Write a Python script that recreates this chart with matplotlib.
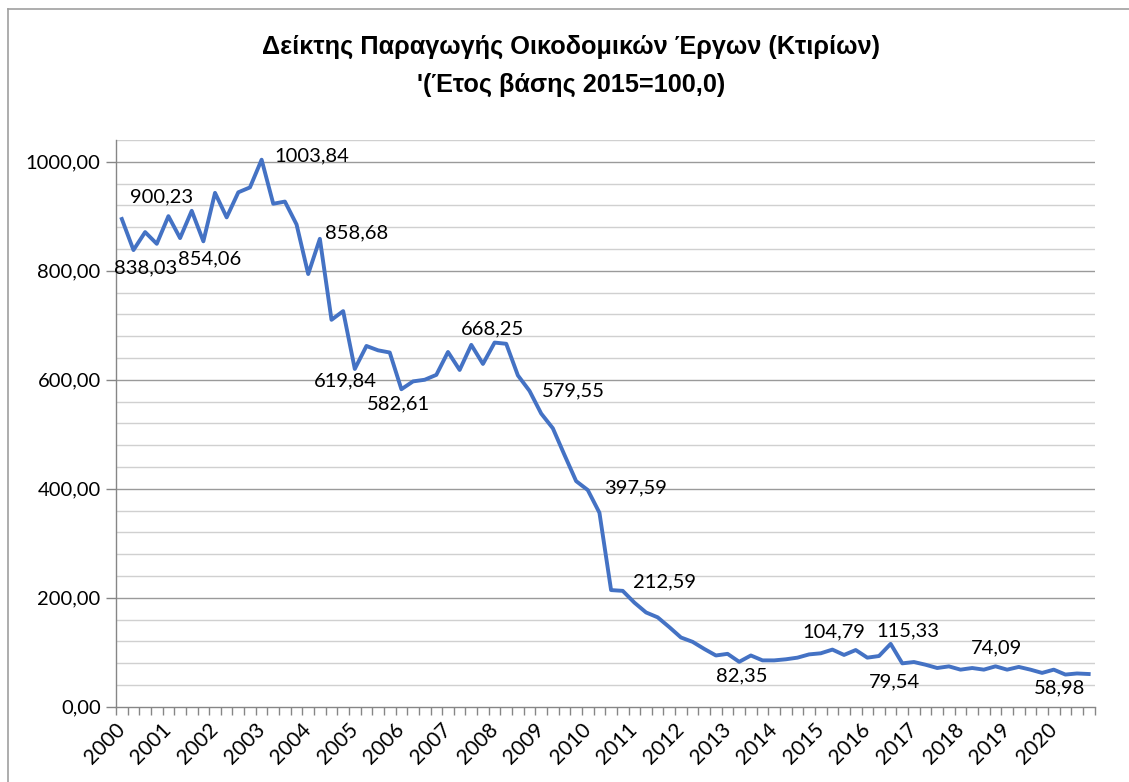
import matplotlib
matplotlib.use('Agg')
import matplotlib.pyplot as plt
from matplotlib.lines import Line2D

plt.rcParams['font.family'] = ['Lato', 'Noto Sans', 'DejaVu Sans']

# quarterly index, 2000 Q1 .. 2020 Q4
years = [str(y) for y in range(2000, 2021)]
index_values = [
    895, 838.03, 871, 849.5, 900.23, 860, 910, 854.06,
    943, 898, 944, 953, 1003.84, 923, 927, 885,
    794, 858.68, 710, 726, 619.84, 662, 654, 650,
    582.61, 597, 600, 609, 651, 618, 664, 629,
    668.25, 666, 608, 579.55, 538, 511, 462, 414,
    397.59, 356, 214, 212.59, 191, 173, 164, 146,
    127, 119, 106, 94, 97, 82.35, 94, 85,
    85, 87, 90, 96, 98, 104.79, 95, 104,
    90, 93, 115.33, 79.54, 82, 77, 71, 74,
    68, 71, 68, 74.09, 68, 73, 68, 62,
    68, 58.98, 61, 60,
]
# which points get a value label (0-based)
labelled = [1, 4, 7, 12, 17, 20, 24, 32, 35, 40, 43, 53, 61, 66, 67, 75, 81]

# label placement: (dx px, dy px, ha)
label_pos = {
    1: (12, -18, 'center'), 4: (-7, 19, 'center'), 7: (6, -18, 'center'),
    12: (13, 4, 'left'), 17: (5, 6, 'left'), 20: (-9, -12, 'center'),
    24: (-3, -15, 'center'), 32: (-2, 14, 'center'), 35: (12, 0, 'left'),
    40: (16, 2, 'left'), 43: (10, 9, 'left'), 53: (3, -14, 'center'),
    61: (1, 18, 'center'), 66: (17, 13, 'center'), 67: (-8, -19, 'center'),
    75: (1, 18, 'center'), 81: (-6, -13, 'center'),
}

fs = 14.5

fig = plt.figure(figsize=(11.29, 7.82), dpi=100)
ax = fig.add_axes([116 / 1129, 1 - 706.7 / 782, (1094.5 - 116) / 1129, (706.7 - 140) / 782])

x = list(range(len(index_values)))
ax.plot(x, index_values, color='#4472C4', lw=2.8, solid_joinstyle='round', zorder=3)

for i in labelled:
    dx, dy, ha = label_pos[i]
    txt = f'{index_values[i]:.2f}'.replace('.', ',')
    ax.annotate(txt, (i, index_values[i]), xytext=(dx, dy), textcoords='offset pixels',
                ha=ha, va='center', fontsize=fs, color='#000000', zorder=4)

ax.set_xlim(-0.5, len(index_values) - 0.5)
ax.set_ylim(0, 1040)

# gridlines: major every 200, minor every 40
for v in range(40, 1041, 40):
    if v % 200 == 0:
        ax.axhline(v, color='#9A9A9A', lw=1.0, zorder=1)
    else:
        ax.axhline(v, color='#D0D0D0', lw=1.0, zorder=1)

ax.set_yticks(range(0, 1001, 200))
ax.set_yticklabels([f'{v:.2f}'.replace('.', ',') for v in range(0, 1001, 200)])
ax.tick_params(axis='y', length=7, width=1, color='#868686', labelsize=fs, pad=4)

ax.set_xticks([i - 0.5 for i in range(len(index_values) + 1)])
ax.set_xticklabels([])
ax.tick_params(axis='x', which='major', length=6, width=1, color='#868686')
ax.set_xticks(list(range(0, len(index_values), 4)), minor=True)
ax.set_xticklabels(years, minor=True, rotation=45, ha='right', va='center',
                   rotation_mode='anchor', fontsize=15)
ax.tick_params(axis='x', which='minor', length=0, pad=14)

for s in ['top', 'right']:
    ax.spines[s].set_visible(False)
for s in ['left', 'bottom']:
    ax.spines[s].set_color('#868686')
    ax.spines[s].set_linewidth(1.0)

title_font = ['Liberation Sans', 'DejaVu Sans']
fig.text(571 / 1129, 1 - 47 / 782, 'Δείκτης Παραγωγής Οικοδομικών Έργων (Κτιρίων)',
         ha='center', va='center', fontsize=18.2, fontweight='bold', family=title_font)
fig.text(571 / 1129, 1 - 85 / 782, "'(Έτος βάσης 2015=100,0)",
         ha='center', va='center', fontsize=18.2, fontweight='bold', family=title_font)

# chart border
fig.add_artist(Line2D([8 / 1129, 8 / 1129], [0, 1 - 9 / 782], color='#A0A0A0', lw=1.2))
fig.add_artist(Line2D([8 / 1129, 1], [1 - 9 / 782, 1 - 9 / 782], color='#A0A0A0', lw=1.2))

fig.savefig('out.png', dpi=100)
